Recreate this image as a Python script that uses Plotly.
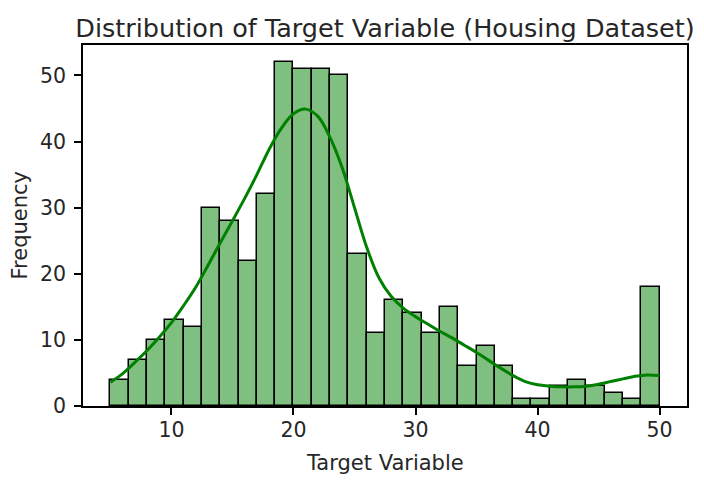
import plotly.graph_objects as go

# Histogram: 30 bins from 5 to 50 (width 1.5)
bin_start = 5.0
bin_width = 1.5
counts = [4, 7, 10, 13, 12, 30, 28, 22, 32, 52, 51, 51, 50, 23, 11,
          16, 14, 11, 15, 6, 9, 6, 1, 1, 3, 4, 3, 2, 1, 18]

# KDE curve points (scaled to counts)
kde_x = [5, 6, 7, 8, 9, 10, 11, 12, 13, 14, 15, 16, 17, 18, 19, 20, 21, 22,
         23, 24, 25, 26, 27, 28, 29, 30, 31, 32, 33, 34, 35, 36, 37, 38, 39,
         40, 41, 42, 43, 44, 45, 46, 47, 48, 49, 50]
kde_y = [3.6, 4.9, 6.6, 8.4, 10.4, 12.6, 15.2, 18.0, 21.3, 24.7, 28.0, 31.4,
         35.0, 38.8, 42.0, 44.2, 44.9, 43.8, 40.6, 36.0, 30.0, 24.0, 19.4,
         16.6, 14.8, 13.5, 12.4, 11.3, 10.3, 9.2, 8.1, 6.9, 5.7, 4.6, 3.7,
         3.2, 3.0, 2.9, 2.9, 3.0, 3.3, 3.7, 4.1, 4.5, 4.7, 4.6]

x_ticks = [10, 20, 30, 40, 50]
y_ticks = [0, 10, 20, 30, 40, 50]

centers = [bin_start + bin_width * (i + 0.5) for i in range(len(counts))]

fig = go.Figure()
fig.add_trace(go.Bar(
    x=centers, y=counts, width=bin_width,
    marker=dict(color="rgba(0,128,0,0.5)", line=dict(color="black", width=1.5)),
    showlegend=False, hoverinfo="x+y",
))
fig.add_trace(go.Scatter(
    x=kde_x, y=kde_y, mode="lines",
    line=dict(color="green", width=3, shape="spline", smoothing=1.0),
    showlegend=False,
))

font_family = "DejaVu Sans"
text_color = "#262626"
# page body has an 8px offset; figure sized/placed to compensate
W, H, OFF = 696, 472, 8
fig.update_layout(
    width=W, height=H,
    margin=dict(l=83 - OFF, r=17, t=45 - OFF, b=74, autoexpand=False),
    paper_bgcolor="white", plot_bgcolor="white",
    font=dict(family=font_family, size=20, color=text_color),
    bargap=0,
    title=dict(text="Distribution of Target Variable (Housing Dataset)",
               font=dict(family=font_family, size=25.5, color=text_color),
               x=0.5, xref="paper", xanchor="center",
               y=1 - (28 - OFF) / H, yref="container", yanchor="middle"),
    annotations=[
        dict(text="Target Variable", xref="paper", yref="paper", x=0.5, y=0,
             xanchor="center", yanchor="middle", yshift=-(463 - 406),
             showarrow=False, font=dict(family=font_family, size=21, color=text_color)),
        dict(text="Frequency", xref="paper", yref="paper", x=0, y=0.5,
             xanchor="center", yanchor="middle", xshift=-(83 - 19), textangle=-90,
             showarrow=False, font=dict(family=font_family, size=21, color=text_color)),
    ],
)
fig.update_xaxes(
    range=[2.75, 52.25], tickvals=x_ticks, ticktext=[str(v) for v in x_ticks],
    showline=True, linecolor="black", linewidth=1.5, mirror=True,
    ticks="outside", ticklen=7, tickwidth=1.5, tickcolor="black",
    showgrid=False, zeroline=False, automargin=False, ticklabelstandoff=-2,
    tickfont=dict(family=font_family, size=20.5, color=text_color),
)
fig.update_yaxes(
    range=[0, 54.6], tickvals=y_ticks, ticktext=[str(v) for v in y_ticks],
    showline=True, linecolor="black", linewidth=1.5, mirror=True,
    ticks="outside", ticklen=7, tickwidth=1.5, tickcolor="black",
    showgrid=False, zeroline=False, automargin=False, ticklabelstandoff=4,
    tickfont=dict(family=font_family, size=20.5, color=text_color),
)

fig.write_html("out.html")
